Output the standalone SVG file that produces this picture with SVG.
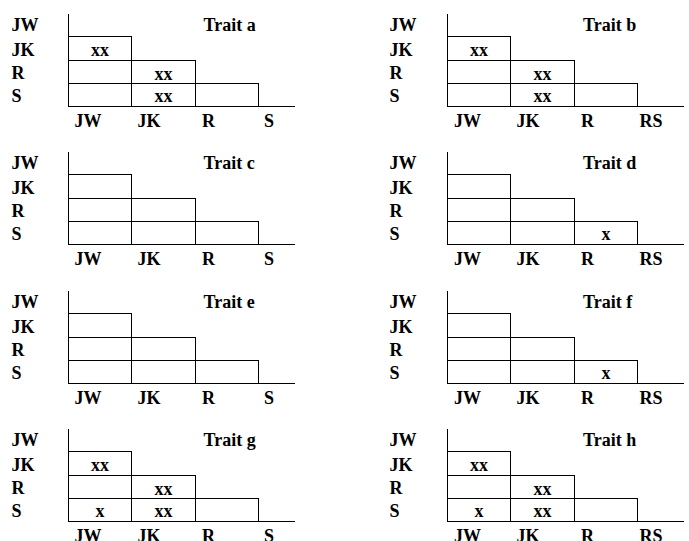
<svg xmlns="http://www.w3.org/2000/svg" width="689" height="541" viewBox="0 0 689 541">
<style>
  .bg{fill:#ffffff}
  .ln{stroke:#000000;stroke-width:1;fill:none}
  .t{font-family:"Liberation Serif","Times New Roman",serif;font-weight:bold;font-size:18px;fill:#000000}
  .m{text-anchor:middle}
</style>
<defs>
  <g id="cells">
    <line class="ln" x1="68.5" y1="14" x2="68.5" y2="107"/>
    <rect class="ln" x="68.5" y="36.5" width="63" height="24"/>
    <rect class="ln" x="68.5" y="60.5" width="63" height="23"/>
    <rect class="ln" x="131.5" y="60.5" width="64" height="23"/>
    <rect class="ln" x="68.5" y="83.5" width="63" height="23"/>
    <rect class="ln" x="131.5" y="83.5" width="64" height="23"/>
    <rect class="ln" x="195.5" y="83.5" width="63" height="23"/>
  </g>
  <g id="leftFrame">
    <use href="#cells"/>
    <line class="ln" x1="68" y1="106.5" x2="295" y2="106.5"/>
    <text class="t" x="11.5" y="30.5">JW</text>
    <text class="t" x="11.5" y="55.5">JK</text>
    <text class="t" x="11.5" y="79">R</text>
    <text class="t" x="11.5" y="101.5">S</text>
    <text class="t" x="74.5" y="126.5">JW</text>
    <text class="t" x="137.5" y="126.5">JK</text>
    <text class="t" x="202" y="126.5">R</text>
    <text class="t" x="264" y="126.5">S</text>
  </g>
  <g id="rightFrame">
    <use href="#cells"/>
    <line class="ln" x1="68" y1="106.5" x2="305" y2="106.5"/>
    <text class="t" x="10.5" y="30.5">JW</text>
    <text class="t" x="10.5" y="55.5">JK</text>
    <text class="t" x="10.5" y="79">R</text>
    <text class="t" x="10.5" y="101.5">S</text>
    <text class="t" x="75" y="126.5">JW</text>
    <text class="t" x="137.5" y="126.5">JK</text>
    <text class="t" x="202" y="126.5">R</text>
    <text class="t" x="260.5" y="126.5">RS</text>
  </g>
</defs>
<rect class="bg" x="0" y="0" width="689" height="541"/>

<g id="trait-a">
  <use href="#leftFrame"/>
  <text class="t" x="203.5" y="30.5">Trait a</text>
  <text class="t m" x="100" y="56">xx</text>
  <text class="t m" x="163.5" y="79.5">xx</text>
  <text class="t m" x="163.5" y="102">xx</text>
</g>
<g id="trait-b" transform="translate(379,0)">
  <use href="#rightFrame"/>
  <text class="t" x="204" y="30.5">Trait b</text>
  <text class="t m" x="100" y="56">xx</text>
  <text class="t m" x="163.5" y="79.5">xx</text>
  <text class="t m" x="163.5" y="102">xx</text>
</g>

<g id="trait-c" transform="translate(0,138)">
  <use href="#leftFrame"/>
  <text class="t" x="203.5" y="30.5">Trait c</text>
</g>
<g id="trait-d" transform="translate(379,138)">
  <use href="#rightFrame"/>
  <text class="t" x="204" y="30.5">Trait d</text>
  <text class="t m" x="227" y="102">x</text>
</g>

<g id="trait-e" transform="translate(0,277)">
  <use href="#leftFrame"/>
  <text class="t" x="203.5" y="30.5">Trait e</text>
</g>
<g id="trait-f" transform="translate(379,277)">
  <use href="#rightFrame"/>
  <text class="t" x="204" y="30.5">Trait f</text>
  <text class="t m" x="227" y="102">x</text>
</g>

<g id="trait-g" transform="translate(0,415)">
  <use href="#leftFrame"/>
  <text class="t" x="203.5" y="30.5">Trait g</text>
  <text class="t m" x="100" y="56">xx</text>
  <text class="t m" x="163.5" y="79.5">xx</text>
  <text class="t m" x="100" y="102">x</text>
  <text class="t m" x="163.5" y="102">xx</text>
</g>
<g id="trait-h" transform="translate(379,415)">
  <use href="#rightFrame"/>
  <text class="t" x="204" y="30.5">Trait h</text>
  <text class="t m" x="100" y="56">xx</text>
  <text class="t m" x="163.5" y="79.5">xx</text>
  <text class="t m" x="100" y="102">x</text>
  <text class="t m" x="163.5" y="102">xx</text>
</g>
</svg>
